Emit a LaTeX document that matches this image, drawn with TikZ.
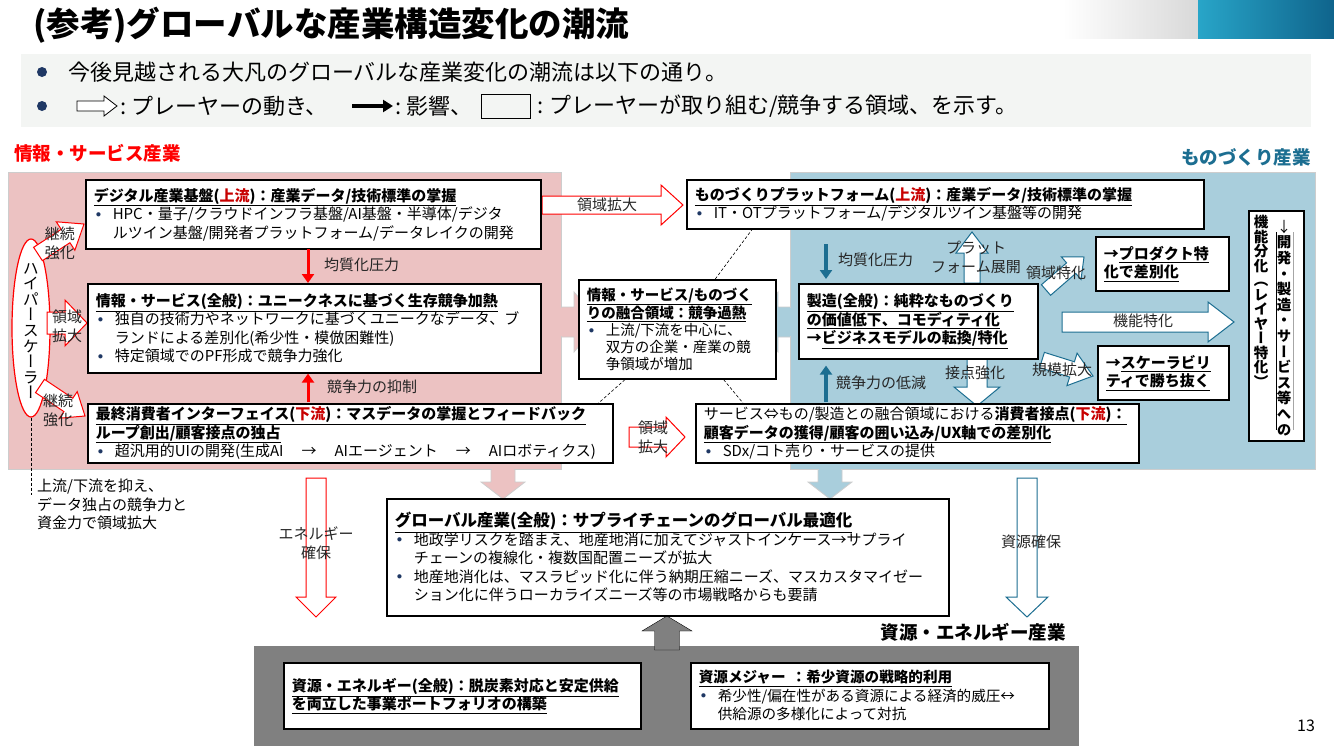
\documentclass[tikz,border=0pt]{standalone}
\usepackage{fontspec}
\setmainfont{Noto Sans CJK JP}
\newfontfamily\vertfont[RawFeature=+vert]{Noto Sans CJK JP}
\usetikzlibrary{shapes.geometric, arrows.meta, calc, positioning}

\definecolor{pinkbg}{RGB}{236,194,194}
\definecolor{bluebg}{RGB}{169,206,220}
\definecolor{graybg}{RGB}{128,128,128}
\definecolor{tealline}{RGB}{28,110,145}
\definecolor{darkred}{RGB}{200,0,0}
\definecolor{navy}{RGB}{31,56,100}
\definecolor{legendbg}{RGB}{243,245,243}
\definecolor{regionedge}{RGB}{205,205,205}
\definecolor{decoteal}{RGB}{40,165,200}
\definecolor{decoblue}{RGB}{15,100,140}

\newcommand{\bodyfont}{\fontsize{15}{18.5}\selectfont}
\newcommand{\boxhead}[1]{\underline{\textbf{#1}}}
\newcommand{\bitem}{\makebox[19pt][l]{\hspace{2pt}\raisebox{2.5pt}{\textcolor{navy}{\scalebox{0.75}{$\bullet$}}}}}
\newcommand{\bindent}{\hspace*{19pt}}
\newcommand{\blockarrow}[6][]{%
  \coordinate (ba) at ($(#3)!#6!(#2)$);
  \draw[#1] ($(#2)!#4!90:(#3)$) -- ($(ba)!#4!-90:(#2)$) -- ($(ba)!#5!-90:(#2)$) -- (#3)
    -- ($(ba)!#5!90:(#2)$) -- ($(ba)!#4!90:(#2)$) -- ($(#2)!#4!-90:(#3)$) -- cycle;}

\tikzstyle{panel} = [rectangle, draw=black, line width=1.6pt, fill=white, anchor=north west, align=left, inner xsep=8pt, inner ysep=2pt, font=\bodyfont]
\tikzstyle{arrowtext} = [inner sep=0pt, align=center, text=black!85, font=\fontsize{15}{19}\selectfont]
\tikzstyle{sector} = [inner sep=0pt, font=\fontsize{18.5}{20}\selectfont\bfseries]
\tikzstyle{keytext} = [anchor=west, inner sep=0pt, font=\fontsize{22}{25}\selectfont]
\tikzstyle{redhollow} = [draw=red, line width=1pt, fill=white]
\tikzstyle{bluehollow} = [draw=tealline, line width=1pt, fill=white]
\tikzstyle{redarrow} = [red, line width=3pt, -{Triangle[length=9pt,width=12pt]}]
\tikzstyle{bluearrow} = [tealline, line width=3.5pt, -{Triangle[length=9pt,width=12pt]}]
\tikzstyle{guide} = [densely dashed, line width=0.6pt]

\begin{document}
\begin{tikzpicture}[x=1pt, y=-1pt]
\useasboundingbox (0,0) rectangle (1334,750);
\fill[white] (0,0) rectangle (1334,750);

\shade[left color=white, right color=black!15] (1063,0) rectangle (1198,38);
\shade[left color=decoteal, right color=decoblue] (1198,0) rectangle (1334,38);
\node (title) [anchor=west, inner sep=0pt, font=\fontsize{33.5}{36}\selectfont\bfseries] at (33,25) {(参考)グローバルな産業構造変化の潮流};

\fill[legendbg] (21,54) rectangle (1311,127);
\fill[navy] (42,72) circle (5pt);
\fill[navy] (42,106) circle (5pt);
\node (intro) [keytext] at (68,72) {今後見越される大凡のグローバルな産業変化の潮流は以下の通り。};
\coordinate (keyaa) at (77,106);
\coordinate (keyab) at (117,106);
\blockarrow[draw=black, line width=0.8pt, fill=white]{keyaa}{keyab}{5pt}{10pt}{13pt}
\node (keymove) [keytext] at (120,106) {:\hspace{5pt}プレーヤーの動き、};
\coordinate (keyba) at (352,106);
\coordinate (keybb) at (393,106);
\draw[line width=4pt, -{Triangle[length=10pt,width=12pt]}] (keyba) -- (keybb);
\node (keyeffect) [keytext] at (395,106) {:\hspace{5pt}影響、};
\node (keybox) [draw, line width=1pt, anchor=west, minimum width=49pt, minimum height=24pt, inner sep=0pt] at (481,106) {};
\node (keyarea) [keytext] at (537,106) {:\hspace{6pt}プレーヤーが取り組む/競争する領域、を示す。};

\node (infolabel) [sector, anchor=west, text=red] at (14,153) {情報・サービス産業};
\node (monolabel) [sector, anchor=east, text=tealline] at (1311,157) {ものづくり産業};
\node (reslabel) [sector, anchor=east] at (1066,632) {資源・エネルギー産業};

\coordinate (pra) at (552,322);
\coordinate (prb) at (600,322);
\coordinate (pda) at (503,462);
\coordinate (pdb) at (503,499);
\coordinate (bla) at (798,322);
\coordinate (blb) at (752,322);
\coordinate (bda) at (830,462);
\coordinate (bdb) at (830,499);
\blockarrow[fill=pinkbg, draw=regionedge, line width=0.8pt]{pra}{prb}{15pt}{30pt}{26pt}
\blockarrow[fill=pinkbg, draw=regionedge, line width=0.8pt]{pda}{pdb}{12pt}{22pt}{17pt}
\blockarrow[fill=bluebg, draw=regionedge, line width=0.8pt]{bla}{blb}{15pt}{30pt}{26pt}
\blockarrow[fill=bluebg, draw=regionedge, line width=0.8pt]{bda}{bdb}{12pt}{22pt}{17pt}
\draw[fill=pinkbg, draw=regionedge, line width=0.8pt] (8,172) rectangle (561,469);
\draw[fill=bluebg, draw=regionedge, line width=0.8pt] (790,172) rectangle (1315,469);
\fill[pinkbg] (559,308) rectangle (563,336);
\fill[pinkbg] (492,467) rectangle (514,471);
\fill[bluebg] (788,308) rectangle (792,336);
\fill[bluebg] (819,467) rectangle (841,471);

\fill[graybg] (254,646) rectangle (1079,746);
\coordinate (gua) at (667,650);
\coordinate (gub) at (667,616);
\blockarrow[fill=graybg]{gua}{gub}{12.5pt}{25pt}{15pt}

\node (hyper) [ellipse, draw=red, line width=1.2pt, fill=white, minimum width=38pt, minimum height=178pt, inner sep=0pt] at (31,328) {};
\node (hypertext) [inner sep=0pt, align=center, font=\vertfont\fontsize{16}{15.6}\selectfont] at ($(hyper.center)+(0,3)$) {ハ\\イ\\パ\\ー\\ス\\ケ\\ー\\ラ\\ー};
\coordinate (hyperend) at (31,495);
\node (hypernote) [anchor=north west, inner sep=0pt, align=left, font=\bodyfont] at (37,479) {上流/下流を抑え、\\データ独占の競争力と\\資金力で領域拡大};

\coordinate (hs1a) at (38,254);
\coordinate (hs1b) at (84,224);
\coordinate (hs2a) at (47,323);
\coordinate (hs2b) at (87,323);
\coordinate (hs3a) at (40,386);
\coordinate (hs3b) at (85,416);
\coordinate (ex1a) at (542,205);
\coordinate (ex1b) at (683,205);
\coordinate (ex2a) at (629,437);
\coordinate (ex2b) at (685,437);
\coordinate (ena) at (316,478);
\coordinate (enb) at (316,617);
\blockarrow[redhollow]{hs1a}{hs1b}{8pt}{17pt}{22pt}
\blockarrow[redhollow]{hs2a}{hs2b}{11pt}{23pt}{22pt}
\blockarrow[redhollow]{hs3a}{hs3b}{8pt}{16pt}{20pt}
\blockarrow[redhollow]{ex1a}{ex1b}{9pt}{20pt}{22pt}
\blockarrow[redhollow]{ex2a}{ex2b}{10pt}{20pt}{19pt}
\blockarrow[redhollow]{ena}{enb}{10pt}{20pt}{20pt}

\coordinate (pfa) at (972,283);
\coordinate (pfb) at (972,232);
\coordinate (cta) at (977,358);
\coordinate (ctb) at (977,406);
\coordinate (dsa) at (1046,290);
\coordinate (dsb) at (1084,257);
\coordinate (sca) at (1042,360);
\coordinate (scb) at (1093,376);
\coordinate (fna) at (1062,322);
\coordinate (fnb) at (1234,322);
\coordinate (rsa) at (1027,478);
\coordinate (rsb) at (1027,617);
\blockarrow[bluehollow]{pfa}{pfb}{8pt}{16pt}{21pt}
\blockarrow[bluehollow]{cta}{ctb}{10pt}{23pt}{19pt}
\blockarrow[bluehollow]{dsa}{dsb}{7pt}{15pt}{17pt}
\blockarrow[bluehollow]{sca}{scb}{8pt}{17pt}{22pt}
\blockarrow[bluehollow]{fna}{fnb}{10pt}{20pt}{26pt}
\blockarrow[bluehollow]{rsa}{rsb}{10pt}{21pt}{20pt}

\node (digital) [panel, text width=439pt, minimum height=69pt] at (85,179) {\boxhead{デジタル産業基盤(\textcolor{darkred}{上流})：産業データ/技術標準の掌握}\\
\bitem HPC・量子/クラウドインフラ基盤/AI基盤・半導体/デジタ\\
\bindent ルツイン基盤/開発者プラットフォーム/データレイクの開発};
\node (general) [panel, text width=437pt, minimum height=89pt] at (87,283) {\boxhead{情報・サービス(全般)：ユニークネスに基づく生存競争加熱}\\
\bitem 独自の技術力やネットワークに基づくユニークなデータ、ブ\\
\bindent ランドによる差別化(希少性・模倣困難性)\\
\bitem 特定領域でのPF形成で競争力強化};
\node (consumer) [panel, text width=509pt, minimum height=59pt] at (87,403) {\boxhead{最終消費者インターフェイス(\textcolor{darkred}{下流})：マスデータの掌握とフィードバック}\\
\boxhead{ループ創出/顧客接点の独占}\\
\bitem 超汎用的UIの開発(生成AI\hspace{18pt}→\hspace{18pt}AIエージェント\hspace{18pt}→\hspace{18pt}AIロボティクス)};

\node (platform) [panel, text width=501pt, minimum height=49pt] at (686,179) {\boxhead{ものづくりプラットフォーム(\textcolor{darkred}{上流})：産業データ/技術標準の掌握}\\
\bitem IT・OTプラットフォーム/デジタルツイン基盤等の開発};
\node (fusion) [panel, text width=181pt, minimum height=99pt, font=\fontsize{14.5}{17}\selectfont] at (578,279) {\boxhead{情報・サービス/ものづく}\\
\boxhead{りの融合領域：競争過熱}\\
\bitem 上流/下流を中心に、\\
\bindent 双方の企業・産業の競\\
\bindent 争領域が増加};
\node (contact) [panel, text width=427pt, minimum height=59pt] at (695,403) {サービス⇔もの/製造との融合領域における\boxhead{消費者接点(\textcolor{darkred}{下流})：}\\
\boxhead{顧客データの獲得/顧客の囲い込み/UX軸での差別化}\\
\bitem SDx/コト売り・サービスの提供};
\node (manufacture) [panel, text width=223pt, minimum height=75pt] at (798,283) {\boxhead{製造(全般)：純粋なものづくり}\\
\boxhead{の価値低下、コモディティ化}\\
\textbf{→}\boxhead{ビジネスモデルの転換/特化}};
\node (product) [panel, text width=117pt, minimum height=54pt] at (1095,236) {\textbf{→}\boxhead{プロダクト特}\\
\boxhead{化で差別化}};
\node (scale) [panel, text width=115pt, minimum height=54pt] at (1097,345) {\textbf{→}\boxhead{スケーラビリ}\\
\boxhead{ティで勝ち抜く}};
\node (layer) [draw=black, line width=1.6pt, fill=white, anchor=north west, minimum width=55pt, minimum height=230pt, inner sep=0pt] at (1248,210) {};
\node (layerleft) [anchor=north, inner sep=0pt, align=center, font=\vertfont\bfseries\fontsize{14.5}{14.5}\selectfont] at (1261,215) {機\\能\\分\\化\\（\\レ\\イ\\ヤ\\ー\\特\\化\\）};
\node (layerright) [anchor=north, inner sep=0pt, align=center, font=\vertfont\bfseries\fontsize{14.5}{15.6}\selectfont] at (1284,220) {{\mdseries ↓}\\開\\発\\・\\製\\造\\・\\サ\\ー\\ビ\\ス\\等\\へ\\の};
\draw[line width=0.8pt] (1276,232) -- (1276,430);
\draw[line width=1pt, black!35] (1293,232) -- (1293,430);

\node (global) [panel, text width=546pt, minimum height=117pt] at (386,498) {{\fontsize{16.5}{18.5}\selectfont\boxhead{グローバル産業(全般)：サプライチェーンのグローバル最適化}}\\
\bitem 地政学リスクを踏まえ、地産地消に加えてジャストインケース→サプライ\\
\bindent チェーンの複線化・複数国配置ニーズが拡大\\
\bitem 地産地消化は、マスラピッド化に伴う納期圧縮ニーズ、マスカスタマイゼー\\
\bindent ション化に伴うローカライズニーズ等の市場戦略からも要請};
\node (energy) [panel, text width=341pt, minimum height=66pt] at (283,662) {\boxhead{資源・エネルギー(全般)：脱炭素対応と安定供給}\\
\boxhead{を両立した事業ポートフォリオの構築}};
\node (major) [panel, text width=342pt, minimum height=66pt, font=\fontsize{14.6}{18.5}\selectfont] at (690,662) {\boxhead{資源メジャー\hspace{6pt}：希少資源の戦略的利用}\\
\bitem 希少性/偏在性がある資源による経済的威圧↔\\
\bindent 供給源の多様化によって対抗};

\node (hs1text) [arrowtext] at (60,243) {継続\\強化};
\node (hs2text) [arrowtext] at (67,326) {領域\\拡大};
\node (hs3text) [arrowtext] at (58,410) {継続\\強化};
\node (ex1text) [arrowtext] at (607,205) {領域拡大};
\node (ex2text) [arrowtext] at (653,437) {領域\\拡大};
\node (entext) [arrowtext] at (316,543) {エネルギー\\確保};
\node (rstext) [arrowtext] at (1031,542) {資源確保};
\node (pftext) [arrowtext] at (976,257) {プラット\\フォーム展開};
\node (dstext) [arrowtext] at (1056,273) {領域特化};
\node (cttext) [arrowtext] at (975,373) {接点強化};
\node (sctext) [arrowtext] at (1062,370) {規模拡大};
\node (fntext) [arrowtext] at (1143,321) {機能特化};
\node (hom1text) [arrowtext, anchor=west] at (324,265) {均質化圧力};
\node (supptext) [arrowtext, anchor=west] at (327,387) {競争力の抑制};
\node (hom2text) [arrowtext, anchor=west] at (838,260) {均質化圧力};
\node (lowtext) [arrowtext, anchor=west] at (836,383) {競争力の低減};
\node (pagenum) [inner sep=0pt, font=\fontsize{16}{18}\selectfont] at (1306,726) {13};

\coordinate (presstop) at (308,249);
\coordinate (suppbot) at (308,402);
\coordinate (hom2top) at (826,244);
\coordinate (lowbot) at (826,402);
\draw[redarrow] (presstop) -- (presstop |- general.north);
\draw[redarrow] (suppbot) -- (suppbot |- general.south);
\draw[bluearrow, shorten >=4pt] (hom2top) -- (hom2top |- manufacture.north);
\draw[bluearrow, shorten >=6pt] (lowbot) -- (lowbot |- manufacture.south);

\draw[guide] ($(fusion.north)+(38,0)$) -- ($(platform.south west)+(66,0)$);
\draw[guide] ($(fusion.south west)+(47,0)$) -- ($(consumer.north east)+(-15,0)$);
\draw[guide] ($(fusion.south east)+(-53,0)$) -- ($(contact.north west)+(48,0)$);
\draw[guide] (hyper.south) -- (hyperend);

\end{tikzpicture}
\end{document}
